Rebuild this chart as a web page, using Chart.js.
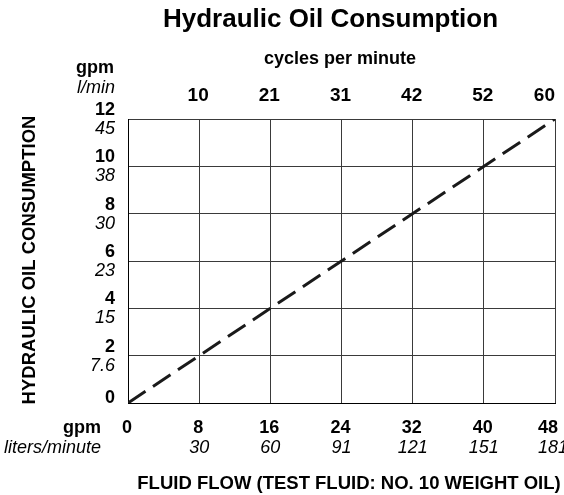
<!DOCTYPE html>
<html><head><meta charset="utf-8">
<script src="https://cdn.jsdelivr.net/npm/chart.js@4.4.1/dist/chart.umd.min.js"></script>
<style>html,body{margin:0;padding:0;background:#fff}canvas{display:block}</style>
</head><body>
<canvas id="c" width="564" height="495"></canvas>
<script>
const flowGpm = [0, 48];
const consumptionGpm = [0, 12];
const xTicksGpm = [0, 8, 16, 24, 32, 40, 48];
const xTicksLpm = ['', '30', '60', '91', '121', '151', '181'];
const topTickValues = [8, 16, 24, 32, 40, 48];
const topTicksCpm = ['10', '21', '31', '42', '52', '60'];
const yTicksGpm = [0, 2, 4, 6, 8, 10, 12];
const yTicksLpm = ['', '7.6', '15', '23', '30', '38', '45'];
const chartTitle = 'Hydraulic Oil Consumption';
const topAxisTitle = 'cycles per minute';
const xAxisTitle = 'FLUID FLOW (TEST FLUID: NO. 10 WEIGHT OIL)';
const yAxisTitle = 'HYDRAULIC OIL CONSUMPTION';
const unitGpm = 'gpm';
const unitLmin = 'l/min';
const unitLitersMinute = 'liters/minute';

const FF = '"Liberation Sans", Arial, Helvetica, sans-serif';

const labelsPlugin = {
  id: 'labels',
  afterDraw(chart) {
    const ctx = chart.ctx;
    const xs = chart.scales.x, ys = chart.scales.y;
    const area = chart.chartArea;
    ctx.save();
    ctx.fillStyle = '#000';
    // Title
    ctx.font = 'bold 26px ' + FF;
    ctx.textAlign = 'center';
    ctx.textBaseline = 'alphabetic';
    ctx.fillText(chartTitle, 330.5, 27);
    // top axis title
    ctx.font = 'bold 18px ' + FF;
    ctx.textBaseline = 'middle';
    ctx.fillText(topAxisTitle, 340, 59);
    // top ticks
    ctx.font = 'bold 19px ' + FF;
    topTickValues.forEach((v, i) => {
      const px = xs.getPixelForValue(v);
      if (i === topTickValues.length - 1) {
        ctx.textAlign = 'right';
        ctx.fillText(topTicksCpm[i], area.right, 96);
      } else {
        ctx.textAlign = 'center';
        ctx.fillText(topTicksCpm[i], px - 1, 96);
      }
    });
    // top-left units
    ctx.textAlign = 'right';
    ctx.textBaseline = 'alphabetic';
    ctx.font = 'bold 18px ' + FF;
    ctx.fillText(unitGpm, 114, 73);
    ctx.font = 'italic 18px ' + FF;
    ctx.fillText(unitLmin, 115, 93);
    // y ticks
    ctx.textBaseline = 'middle';
    yTicksGpm.forEach((v, i) => {
      const py = ys.getPixelForValue(v);
      ctx.font = 'bold 18px ' + FF;
      ctx.fillText(String(v), 115, v === 0 ? py - 5 : py - 9);
      if (yTicksLpm[i]) {
        ctx.font = 'italic 18px ' + FF;
        ctx.fillText(yTicksLpm[i], 115, py + 10);
      }
    });
    // bottom units
    ctx.font = 'bold 18px ' + FF;
    ctx.fillText(unitGpm, 101, 428);
    ctx.font = 'italic 18px ' + FF;
    ctx.fillText(unitLitersMinute, 101, 447.5);
    // bottom ticks
    ctx.textAlign = 'center';
    xTicksGpm.forEach((v, i) => {
      let px = xs.getPixelForValue(v);
      const last = i === xTicksGpm.length - 1;
      ctx.font = 'bold 18px ' + FF;
      ctx.fillText(String(v), last ? px - 7 : px - 1, 428);
      if (xTicksLpm[i]) {
        ctx.font = 'italic 18px ' + FF;
        ctx.fillText(xTicksLpm[i], last ? px - 2 : px, 447.5);
      }
    });
    // x axis title
    ctx.font = 'bold 18.5px ' + FF;
    ctx.fillText(xAxisTitle, 349, 484);
    // y axis title
    ctx.translate(30, 260);
    ctx.rotate(-Math.PI / 2);
    ctx.fillText(yAxisTitle, 0, 0);
    ctx.restore();
  }
};

new Chart(document.getElementById('c'), {
  type: 'line',
  data: {
    datasets: [{
      data: flowGpm.map((x, i) => ({ x: x, y: consumptionGpm[i] })),
      borderColor: '#1a1a1a',
      borderWidth: 3,
      borderDash: [21, 9],
      pointRadius: 0,
      tension: 0,
      fill: false
    }]
  },
  options: {
    responsive: false,
    animation: false,
    layout: { padding: { left: 128, right: 9, top: 119, bottom: 92 } },
    plugins: { legend: { display: false }, tooltip: { enabled: false }, title: { display: false } },
    scales: {
      x: {
        type: 'linear', min: 0, max: 48,
        ticks: { display: false, stepSize: 8 },
        grid: { color: '#3a3a3a', lineWidth: 1, drawTicks: false },
        border: { color: '#000', width: 1 }
      },
      y: {
        type: 'linear', min: 0, max: 12,
        ticks: { display: false, stepSize: 2 },
        grid: { color: '#3a3a3a', lineWidth: 1, drawTicks: false },
        border: { color: '#000', width: 1 }
      }
    }
  },
  plugins: [labelsPlugin]
});
</script>
</body></html>
